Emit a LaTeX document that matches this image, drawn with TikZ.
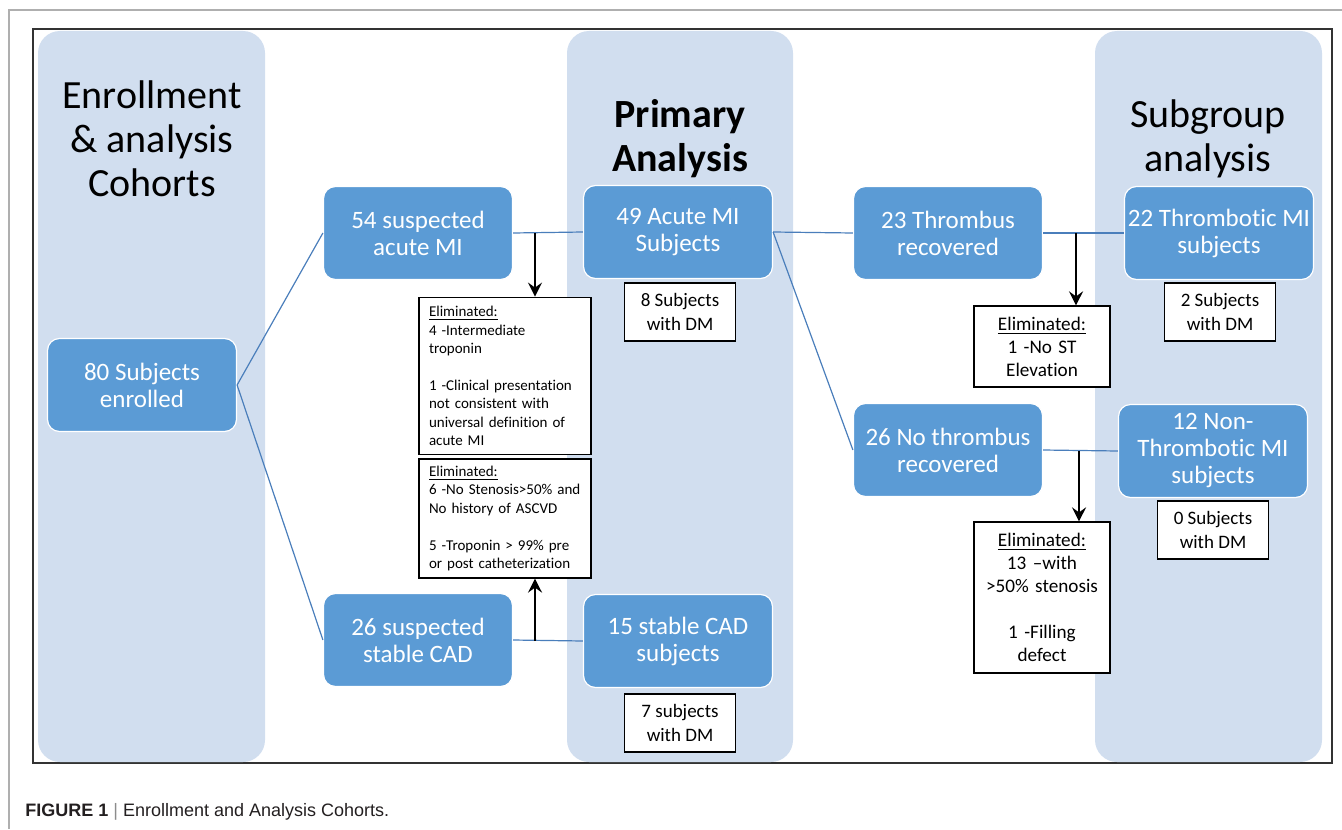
\documentclass[tikz,border=0pt]{standalone}
\usepackage{fontspec}
\setmainfont{Carlito}[Ligatures=NoCommon]
\newfontfamily\capfont{Liberation Sans}
\usetikzlibrary{positioning,calc,arrows.meta}

\begin{document}
\begin{tikzpicture}[x=0.5pt,y=-0.5pt,
  column/.style={fill=colblue, rounded corners=11pt},
  heading/.style={align=center, font=\fontsize{20}{22}\selectfont},
  cohort/.style={draw=white, line width=0.6pt, fill=boxblue, rounded corners=6pt,
    text=white, align=center, minimum width=94.5pt, minimum height=46.5pt,
    inner xsep=0.5pt, inner ysep=2pt, font=\fontsize{12.5}{13.5}\selectfont},
  dmbox/.style={draw=black, line width=0.6pt, fill=white, align=center,
    minimum width=55.5pt, minimum height=29pt, inner sep=1pt,
    font=\fontsize{9.5}{12}\selectfont},
  elimleft/.style={draw=black, line width=0.6pt, fill=white, align=left,
    text width=76pt, minimum width=86pt, inner xsep=5pt, inner ysep=1.5pt,
    font=\fontsize{7.5}{9.2}\selectfont},
  elimright/.style={draw=black, line width=0.6pt, fill=white, align=center,
    text width=64pt, minimum width=68pt, inner xsep=2pt, inner ysep=1.5pt,
    font=\fontsize{9.6}{11.5}\selectfont},
  link/.style={draw=linkblue, line width=0.6pt},
  elimarrow/.style={draw=black, line width=1.2pt,
    -{Stealth[length=7pt,width=7pt,inset=2.5pt]}}]

\definecolor{boxblue}{RGB}{91,155,213}
\definecolor{colblue}{RGB}{209,222,239}
\definecolor{linkblue}{RGB}{74,126,187}
\definecolor{framegray}{RGB}{175,175,175}
\definecolor{captext}{RGB}{35,31,32}

\useasboundingbox (0,0) rectangle (1342,829);

% ---------------- page frame ----------------
\draw[framegray, line width=0.8pt] (1342,10) -- (9,10) -- (9,829);
\draw[black!80, line width=0.7pt] (33,29) rectangle (1332,763);

% ---------------- background columns ----------------
\fill[column] (38,31)   rectangle (265,762);
\fill[column] (567,31)  rectangle (793,762);
\fill[column] (1095,31) rectangle (1322,762);

\node[heading] (hdenroll)  at (152,139) {Enrollment\\\& analysis\\Cohorts};
\node[heading, font=\fontsize{20}{22}\selectfont\bfseries] (hdprimary) at (680,139) {Primary\\Analysis};
\node[heading] (hdsubgroup) at (1208,139) {Subgroup\\analysis};

% =========== cohort boxes ===========
\node[cohort] (enrolled)    at (142,385)  {80 Subjects\\enrolled};
\node[cohort] (suspmi)      at (418,233)  {54 suspected\\acute MI};
\node[cohort] (suspcad)     at (418,640)  {26 suspected\\stable CAD};
\node[cohort] (acutemi)     at (678,232)  {49 Acute MI\\Subjects};
\node[cohort] (stablecad)   at (678,641)  {15 stable CAD\\subjects};
\node[cohort] (thrombus)    at (948,233)  {23 Thrombus\\recovered};
\node[cohort] (nothrombus)  at (948,450)  {26 No thrombus\\recovered};
\node[cohort] (thrombmi)    at (1219,233) {22 Thrombotic MI\\subjects};
\node[cohort] (nonthrombmi) at (1213,451) {12 Non-\\Thrombotic MI\\subjects};

% =========== subjects with DM ===========
\node[dmbox] (dmacute)     at (680,312)  {8 Subjects\\with DM};
\node[dmbox] (dmstable)    at (680,723)  {7 subjects\\with DM};
\node[dmbox] (dmthromb)    at (1220,312) {2 Subjects\\with DM};
\node[dmbox] (dmnonthromb) at (1213,530) {0 Subjects\\with DM};

% =========== eliminated ===========
\node[elimleft, minimum height=78.8pt] (elimmi) at (505,376)
  {\underline{Eliminated:}\\4 -Intermediate\\troponin\\[9.2pt]1 -Clinical presentation\\not consistent with\\universal definition of\\acute MI};
\node[elimleft, minimum height=59.5pt] (elimcad) at (505,518.5)
  {\underline{Eliminated:}\\6 -No Stenosis>50\% and\\No history of ASCVD\\[9.2pt]5 -Troponin > 99\% pre\\or post catheterization};
\node[elimright, minimum height=40.5pt] (elimst) at (1042,346.5)
  {\underline{Eliminated:}\\1 -No ST\\Elevation};
\node[elimright, minimum height=75.5pt] (elimsten) at (1042,597.5)
  {\underline{Eliminated:}\\13 –with\\>50\% stenosis\\[11.5pt]1 -Filling\\defect};

% ---------------- links ----------------
\draw[link] (enrolled.east) -- (suspmi.west);
\draw[link] (enrolled.east) -- (suspcad.west);
\draw[link] (suspmi.east) -- (acutemi.west);
\draw[link] (suspcad.east) -- (stablecad.west);
\draw[link] (acutemi.east) -- (thrombus.west);
\draw[link] (acutemi.east) -- (nothrombus.west);
\draw[link] (thrombus.east) -- (thrombmi.west);
\draw[link] (nothrombus.east) -- (nonthrombmi.west);

\coordinate (forkmi)   at (535,233);
\coordinate (forkcad)  at (535,641);
\coordinate (forkst)   at (1076,233);
\coordinate (forksten) at (1079,451);
\draw[elimarrow] (forkmi) -- (forkmi |- elimmi.north);
\draw[elimarrow] (forkcad) -- (forkcad |- elimcad.south);
\draw[elimarrow] (forkst) -- (forkst |- elimst.north);
\draw[elimarrow] (forksten) -- (forksten |- elimsten.north);

% ---------------- caption ----------------
\node[anchor=west, inner sep=0pt, text=captext, font=\capfont\fontsize{9}{11}\selectfont]
  (caption) at (25,812) {\textbf{FIGURE 1} {\color{black!45}|} Enrollment and Analysis Cohorts.};

\end{tikzpicture}
\end{document}
